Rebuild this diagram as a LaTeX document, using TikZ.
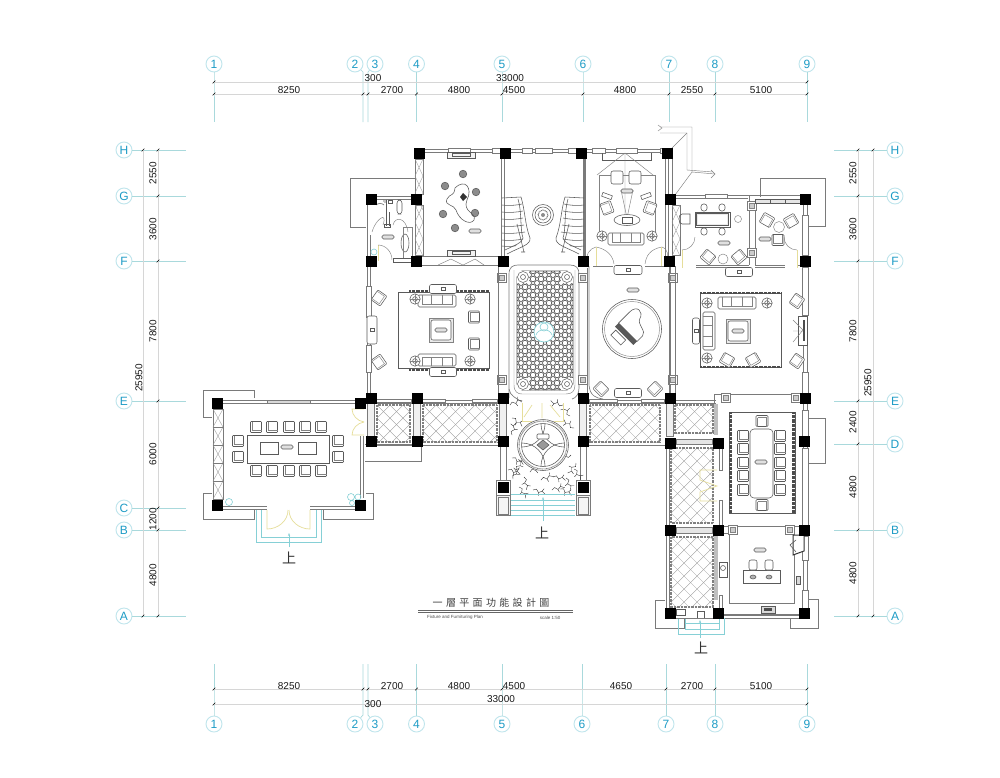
\documentclass[tikz,border=0pt]{standalone}
\usepackage{fontspec}
\setmainfont{Liberation Sans}
\newfontfamily\cjk{Noto Sans CJK TC}
\usetikzlibrary{arrows.meta}
\definecolor{axc}{HTML}{A9D9DC}
\definecolor{txc}{HTML}{1E9CC6}
\definecolor{bub}{HTML}{BFE5EC}
\definecolor{dimc}{HTML}{D6D6D6}
\definecolor{wallc}{HTML}{7A7A7A}
\definecolor{furc}{HTML}{5A5A5A}
\definecolor{yel}{HTML}{E6DE9A}
\definecolor{cy}{HTML}{86D0D6}
\tikzset{
 bubble/.style={circle,draw=bub,line width=.9pt,fill=white,inner sep=0pt,minimum size=16pt,text=txc,font=\fontsize{12}{12}\selectfont},
 axis/.style={draw=axc,line width=.7pt},
 dimline/.style={draw=dimc,line width=.8pt},
 dimtxt/.style={font=\fontsize{10}{10}\selectfont,text=black!90,inner sep=0pt},
 wl/.style={draw=wallc,line width=.65pt},
 wthick/.style={draw=wallc,line width=1.3pt},
 win/.style={draw=wallc,line width=.5pt,fill=white},
 fur/.style={draw=furc,line width=.55pt},
 furl/.style={draw=furc!75,line width=.45pt},
 lat/.style={draw=black!40,line width=.35pt},
 yl/.style={draw=yel,line width=.7pt},
 cyl/.style={draw=cy,line width=.6pt},
 fringe/.style={draw=black!70,line width=2.4pt,dash pattern=on .7pt off .6pt},
 upc/.style={font=\cjk\fontsize{14}{14}\selectfont,inner sep=0pt,text=black!80},
}
\newcommand\colm[2]{\fill[black] (#1-5.5,#2-5.5) rectangle ++(11,11);}
\newcommand\tick[2]{\draw[black,line width=.6pt] (#1-1.3,#2+1.3) -- (#1+1.3,#2-1.3);}
\newcommand\lattice[4]{\begin{scope}\clip (#1,#2) rectangle (#3,#4);
 \foreach \k in {-10,...,20}{\draw[lat] (#1+\k*13,#2) -- ++(120,120); \draw[lat] (#1+\k*13,#2) -- ++(-120,120);}\end{scope}
 \draw[draw=black!50,line width=1.1pt,dash pattern=on .8pt off .6pt] (#1,#2) rectangle (#3,#4);}
\newcommand\achair[3]{\begin{scope}[shift={(#1,#2)},rotate=#3]
 \draw[fur,fill=white,rounded corners=1pt] (-6,-5.5) rectangle (6,5.5);
 \draw[furl] (-4.5,-3.5) -- (4.5,-3.5) -- (4.5,5.5) (-4.5,-3.5) -- (-4.5,5.5);\end{scope}}
\newcommand\schair[2]{\draw[fur,fill=white,rounded corners=.8pt] (#1-5.5,#2-5.5) rectangle (#1+5.5,#2+5.5); \draw[furl] (#1-3.5,#2-5.5) -- (#1-3.5,#2+3.5) -- (#1+5.5,#2+3.5);}
\newcommand\sofa[4]{\begin{scope}[shift={(#1,#2)},rotate=#4]
 \draw[fur,fill=white,rounded corners=1.5pt] (-#3/2,-6) rectangle (#3/2,6);
 \draw[furl] (-#3/2+4,-6) -- (-#3/2+4,3) -- (#3/2-4,3) -- (#3/2-4,-6);
 \draw[furl] (-#3/6+.7,-6) -- (-#3/6+.7,3) (#3/6-.7,-6) -- (#3/6-.7,3);\end{scope}}
\newcommand\rtable[2]{\draw[fur,fill=white] (#1,#2) circle (5.2); \draw[fur] (#1,#2) circle (2.4); \draw[furl] (#1-5.2,#2) -- (#1+5.2,#2) (#1,#2-5.2) -- (#1,#2+5.2);}
\newcommand\tag[2]{\draw[fur,rounded corners=1.5pt,fill=black!12] (#1-6,#2-2) rectangle (#1+6,#2+2);}
\newcommand\console[4]{\draw[fur,fill=white,rounded corners=2pt] (#1-#3/2,#2-#4/2) rectangle (#1+#3/2,#2+#4/2); \draw[fur] (#1-2,#2-1.5) rectangle (#1+2,#2+1.5);}
\newcommand\ctable[3]{\draw[furl,fill=black!8] (#1-#3/2,#2-#3/2) rectangle (#1+#3/2,#2+#3/2); \draw[fur,fill=white,rounded corners=2pt] (#1-#3/2+2,#2-#3/2+2) rectangle (#1+#3/2-2,#2+#3/2-2); \tag{#1}{#2}}
\newcommand\sqbase[2]{\draw[wl,fill=white] (#1-4.5,#2-4.5) rectangle (#1+4.5,#2+4.5); \draw[furl,fill=black!20] (#1-2.5,#2-2.5) rectangle (#1+2.5,#2+2.5);}
\newcommand\topax[3]{\node[bubble] (t#1) at (#2,64) {#1}; \draw[axis] (t#1) -- (#3,72) -- (#3,122);}
\newcommand\botax[3]{\node[bubble] (b#1) at (#2,724) {#1}; \draw[axis] (b#1) -- (#3,715) -- (#3,664);}
\newcommand\leftax[2]{\node[bubble] (l#1) at (124,#2) {#1}; \draw[axis] (l#1) -- (186,#2);}
\newcommand\rightax[2]{\node[bubble] (r#1) at (895,#2) {#1}; \draw[axis] (r#1) -- (834,#2);}
\begin{document}
\begin{tikzpicture}[x=1pt,y=-1pt]
\useasboundingbox (0,0) rectangle (1000,777);
\fill[white] (0,0) rectangle (1000,777);
% ---- axes
\topax{1}{214}{214}\topax{2}{355}{363}\topax{3}{375}{368}\topax{4}{416.5}{416.5}\topax{5}{502}{502}\topax{6}{583}{583}\topax{7}{669}{669}\topax{8}{715}{715}\topax{9}{807}{807}
\botax{1}{214}{214}\botax{2}{355}{363}\botax{3}{375}{368}\botax{4}{416.5}{416.5}\botax{5}{502}{502}\botax{6}{582}{582}\botax{7}{666}{666}\botax{8}{715}{715}\botax{9}{807}{807}
\leftax{H}{150}\leftax{G}{196}\leftax{F}{261}\leftax{E}{401}\leftax{C}{508}\leftax{B}{530}\leftax{A}{616}
\rightax{H}{150}\rightax{G}{196}\rightax{F}{261}\rightax{E}{401}\rightax{D}{444}\rightax{B}{530}\rightax{A}{616}
% ---- dimension lines
\draw[dimline] (214,82) -- (807,82) (214,94) -- (807,94);
\draw[dimline] (214,689) -- (807,689) (214,704) -- (807,704);
\draw[dimline] (143,150) -- (143,616) (158,150) -- (158,616);
\draw[dimline] (873,150) -- (873,616) (858,150) -- (858,616);
\foreach \x in {214,363,368,416.5,502,583,669,715,807}{\tick{\x}{94}}
\tick{214}{82}\tick{807}{82}
\foreach \x in {214,363,368,416.5,502,666,715,807}{\tick{\x}{689}}
\tick{214}{704}\tick{807}{704}
\foreach \y in {150,196,261,401,508,530,616}{\tick{158}{\y}}
\tick{143}{150}\tick{143}{616}
\foreach \y in {150,196,261,401,444,530,616}{\tick{858}{\y}}
\tick{873}{150}\tick{873}{616}
% top texts
\node[dimtxt] (d1) at (289,90) {8250};
\node[dimtxt] (d2) at (392,90) {2700};
\node[dimtxt] (d3) at (459,90) {4800};
\node[dimtxt] (d4) at (514,90) {4500};
\node[dimtxt] (d5) at (625,90) {4800};
\node[dimtxt] (d6) at (692,90) {2550};
\node[dimtxt] (d7) at (761,90) {5100};
\node[dimtxt] (d8) at (373,78) {300};
\node[dimtxt] (d9) at (510,78) {33000};
% bottom texts
\node[dimtxt] (e1) at (289,686) {8250};
\node[dimtxt] (e2) at (392,686) {2700};
\node[dimtxt] (e3) at (459,686) {4800};
\node[dimtxt] (e4) at (514,686) {4500};
\node[dimtxt] (e5) at (621,686) {4650};
\node[dimtxt] (e6) at (692,686) {2700};
\node[dimtxt] (e7) at (761,686) {5100};
\node[dimtxt] (e8) at (373,704) {300};
\node[dimtxt] (e11) at (501,699) {33000};
% left texts
\foreach \n/\y/\t in {a/173/2550,b/229/3600,c/331/7800,d/454/6000,e/519/1200,f/575/4800}{\node[dimtxt,rotate=90] (g\n) at (153,\y) {\t};}
\node[dimtxt,rotate=90] (g0) at (139,378) {25950};
% right texts
\foreach \n/\y/\t in {a/173/2550,b/229/3600,c/331/7800,d/422/2400,e/487/4800,f/573/4800}{\node[dimtxt,rotate=90] (h\n) at (853,\y) {\t};}
\node[dimtxt,rotate=90] (h0) at (868,383) {25950};
% ---- outer bays
\draw[wl] (415,178) -- (350,178) -- (350,227) -- (366,227);
\draw[wl] (760,197) -- (760,178) -- (825,178) -- (825,226) -- (807,226);
\draw[wl] (809,418) -- (825,418) -- (825,463) -- (809,463);
\draw[wl] (254,398) -- (254,390) -- (203,390) -- (203,417) -- (212,417);
\draw[wl] (212,493) -- (203,493) -- (203,519) -- (254,519) -- (254,510);
\draw[wl] (323,510) -- (323,519) -- (373,519) -- (373,493) -- (366,493);
\draw[wl] (365,444) -- (421,444) -- (421,461) -- (365,461);
\draw[wl] (665,600) -- (655,600) -- (655,628) -- (684,628) -- (684,618);
\draw[wl] (790,618) -- (790,628) -- (818,628) -- (818,599) -- (808,599);
% ---- north-east shaft
\draw[furl] (660,127) -- (692,127) -- (692,172) -- (715,174);
\draw[furl] (660,133) -- (687,133) -- (687,170) -- (713,172);
\draw[furl] (687,133) -- (672,148) (692,172) -- (675,195);
\draw[furl] (658,125) -- (662,128) -- (658,131) (711,170) -- (715,174) -- (711,178);
% ---- terrace lattices
\lattice{377}{405}{410}{442}
\lattice{423}{405}{497}{442}
\lattice{590}{405}{660}{442}
\lattice{675}{405}{713}{433}
\lattice{671}{448}{713}{523}
\lattice{671}{537}{713}{607}
% terrace bars
\foreach \x in {371,417,503,583,670}{\draw[wl,fill=black!6] (\x-3.5,403) rectangle (\x+3.5,436);}
\draw[wl,fill=black!10] (676,439) rectangle (712,444);
\draw[wl,fill=black!10] (676,527) rectangle (712,533);
\draw[wl] (666,444) -- (666,613) (669,448) -- (669,608);
\draw[wl] (372,445) -- (500,445) (586,445) -- (665,445);
\draw[wl] (366,400) -- (503,400) (588,400) -- (716,400) (366,403) -- (503,403) (588,403) -- (716,403);
\fill[black!25] (714,404) rectangle (718,435);
\fill[black!25] (714,533) rectangle (718,600);
\draw[wl] (719,448) rectangle (722,470) (719,500) rectangle (722,525) (719,595) rectangle (722,608);
% ---- main walls
\draw[wl] (419,149.5) -- (667,149.5) (419,152) -- (667,152);
\foreach \a/\b in {448/470,492/500,522/532,535/552,568/577,592/605,616/637,660/667}{\draw[win] (\a,148.5) rectangle (\b,153);}
\draw[wl] (501,153) -- (501,258) (504,153) -- (504,258);
\draw[wthick] (585,153) -- (585,258);
\draw[wl] (583,153) -- (583,258);
\draw[wl] (665,153) -- (665,261) (668,153) -- (668,261);
\draw[wl] (672,153) -- (672,199);
% left lattice strips
\foreach \xa/\ya/\yb in {415/159/194,415/205/255,672/205/255}{
 \draw[wl] (\xa,\ya) rectangle (\xa+8,\yb);
 \foreach \q in {0,1,2}{\draw[lat] (\xa,\ya+\q*17) -- (\xa+8,\ya+\q*17+17) (\xa+8,\ya+\q*17) -- (\xa,\ya+\q*17+17);}}
% wall row F
\draw[wl] (422,256) -- (502,256) (422,265) -- (502,265);
\draw[furl] (438,265) -- (451,259) -- (463,265) -- (475,259) -- (484,265);
% west wall main
\draw[wl] (367,266) -- (367,394) (370,266) -- (370,394);
\draw[win] (366,286) rectangle (371,317);
\draw[win] (366,345) rectangle (371,372);
\draw[wl] (367,205) -- (367,256) (370,235) -- (370,256);
\draw[wl] (376,196) -- (415,196) (376,199) -- (415,199);
% south wall row E segments
\foreach \a/\b in {376/411,422/445,472/497,589/617,641/664}{\draw[win] (\a,399.5) rectangle (\b,402.5);}
% east walls
\draw[wl] (803,205) -- (803,393) (807,205) -- (807,393);
\foreach \a/\b in {215/255,267/315,372/393}{\draw[win] (802,\a) rectangle (808,\b);}
\draw[wl] (803,403) -- (803,608) (807,403) -- (807,608);
\foreach \a/\b in {410/436,448/525,536/560,590/608}{\draw[win] (802,\a) rectangle (808,\b);}
% upper right room walls
\draw[wl] (676,195) -- (748,195) (676,198) -- (748,198);
\draw[win] (705,194.5) rectangle (727,198.5);
\draw[wl] (748,195) -- (800,195) (755,199) -- (800,199);
\draw[wl] (749,196) -- (749,265) (755,199) -- (755,265);
\sqbase{752}{206}\sqbase{752}{253}
\draw[wl] (696,265) -- (749,265) (696,267) -- (749,267) (755,265) -- (785,265) (755,267) -- (785,267) (797,265) -- (800,265);
\foreach \a in {755,770,785}{\draw[fur,fill=black!10] (\a,199.5) rectangle (\a+15,203);}
% door arcs
\draw[yl] (682,250) -- (682,268);
\draw[furl] (682,250) arc[start angle=90,end angle=0,radius=13];
\draw[yl] (797,250) -- (797,268);
\draw[furl] (797,250) arc[start angle=90,end angle=180,radius=13];
% north-left room furniture
\draw[fur,fill=black!5] (447,152) rectangle (475,158); \draw[fur] (452,153.5) rectangle (470,156.5);
\draw[fur,fill=black!5] (447,250) rectangle (475,256); \draw[fur] (452,251.5) rectangle (470,254.5);
\foreach \x/\y in {463/174,445/186,476/192,443/214,475/213,455/228}{\draw[fur,fill=black!45] (\x,\y) circle (3.8);}
\draw[fur] (455,188) .. controls (465,178) and (473,188) .. (467,200) .. controls (462,212) and (477,213) .. (474,220) .. controls (470,226) and (459,220) .. (456,210) .. controls (454,204) and (444,206) .. (447,199) .. controls (450,193) and (454,197) .. (455,188) -- cycle;
\fill[black!80] (463,193) -- (467,197) -- (463,201) -- (460,197) -- cycle;
\tag{475}{231}
% stairs
\foreach \s in {0,1}{
\begin{scope}[shift={(\s*1086,0)},xscale={1-2*\s}]
 \draw[fur] (502,198) -- (521,197);
 \draw[fur] (521,197) .. controls (525,210) and (525,225) .. (530,238) .. controls (531,245) and (520,247) .. (507,254);
 \draw[fur] (518,199) .. controls (522,212) and (520,230) .. (523,238) .. controls (522,243) and (515,245) .. (505,250);
 \foreach \y/\e in {205/522,212/523,219/523,226/524,233/525,240/523,246/516}{\draw[fur] (502,\y) .. controls (510,\y+1) and (518,\y) .. (\e,\y-1);}
 \draw[fur] (517,224) -- (524,252) (521,252) -- (525,252);
\end{scope}}
\draw[fur] (543,215) circle (10.5); \draw[fur] (543,215) circle (8);
\draw[black!60,line width=1pt,dash pattern=on .7pt off .7pt] (543,215) circle (5);
\fill[black!45] (543,215) circle (2);
% north right room
\draw[fur] (602,153) -- (602,160) -- (651,160) -- (651,153);
\draw[furl] (625,153) -- (597,175) (625,153) -- (653,175) (625,153) -- (625,222);
\draw[furl] (599,175) -- (655,175) (599,175) -- (599,233) (655,175) -- (655,233);
\draw[fur,fill=white,rounded corners=2pt] (611,171) rectangle (623,184);
\draw[fur,fill=white,rounded corners=2pt] (629,171) rectangle (641,184);
\tag{627}{191}
\draw[fur,rotate around={-20:(607,196)}] (602,194) rectangle (612,198);
\draw[fur,rotate around={20:(646,196)}] (641,194) rectangle (651,198);
\achair{607}{208}{-70}\achair{650}{208}{70}
\draw[furl] (621,190) -- (627,218) -- (633,190);
\draw[fur,fill=white] (627,220) ellipse (13 and 5.5); \draw[fur] (622,217) rectangle (632,223);
\sofa{626}{239}{36}{0}
\rtable{602}{236}\rtable{652}{236}
\draw[furl] (596,247) .. controls (590,248) and (584,256) .. (588,262);
\draw[furl] (596,247) .. controls (607,249) and (613,256) .. (614,264);
\draw[yl] (596,247) -- (596,266);
\draw[furl] (662,247) .. controls (650,249) and (646,256) .. (645,264);
\draw[furl] (662,247) .. controls (668,248) and (668,256) .. (668,262);
\draw[yl] (661,247) -- (661,266);
\draw[wl] (593,266) -- (613,266) (645,266) -- (666,266);
\console{628}{270}{28}{9}
% central hall
\draw[wl] (509,398) -- (509,274) .. controls (509,267) and (513,265) .. (518,265) -- (570,265) .. controls (576,265) and (579,268) .. (579,274) -- (579,388) .. controls (579,394) and (576,398) .. (572,399);
\draw[wl] (509,389) .. controls (510,396) and (516,398) .. (522,402);
\draw[furl] (514,270) -- (514,385) .. controls (514,392) and (518,394) .. (522,394) -- (566,394) .. controls (572,394) and (575,391) .. (575,385) -- (575,270);
\sqbase{502}{278}\sqbase{583}{278}\sqbase{502}{380}\sqbase{583}{380}
\draw[wl] (498,265) -- (498,395) (587,268) -- (587,395);
\begin{scope}
 \clip (522,271) -- (567,271) -- (573,277) -- (573,384) -- (567,390) -- (522,390) -- (517,384) -- (517,277) -- cycle;
 \fill[white] (515,268) rectangle (575,392);
 \foreach \i in {0,...,7}{\foreach \j in {0,...,15}{
   \draw[black!75,line width=.6pt] (517+\i*8,271+\j*8) circle (2.8);
   \draw[black!60,line width=.4pt] (517+\i*8+4,271+\j*8+1) -- ++(3,3) -- ++(-3,3) -- ++(-3,-3) -- cycle;
 }}
\end{scope}
\draw[black!70,line width=.8pt] (522,271) -- (567,271) -- (573,277) -- (573,384) -- (567,390) -- (522,390) -- (517,384) -- (517,277) -- cycle;
\foreach \x/\y in {523/277,567/277,523/384,567/384}{\fill[white] (\x-6,\y-6) rectangle (\x+6,\y+6); \draw[black!65,line width=.5pt] (\x,\y) circle (5.5); \draw[black!65,line width=.5pt] (\x,\y) circle (2.5);}
\fill[white] (544,332) circle (10);
\draw[cy,line width=.7pt] (544,332) circle (10);
\draw[cy,line width=.6pt] (544,327) circle (4);
\draw[cy,line width=.6pt] (536,335) .. controls (538,328) and (550,328) .. (552,335);
% piano room
\draw[wl] (589,266) -- (589,385) .. controls (590,396) and (596,398) .. (603,399);
\draw[wl] (670,266) -- (670,398);
\draw[fur] (632,329) circle (29.5); \draw[furl] (632,329) circle (27.5);
\begin{scope}[shift={(632,328)},rotate=-45]
 \draw[fur] (-13,6) -- (-13,-10) .. controls (-13,-20) and (-3,-20) .. (-1,-12) .. controls (1,-6) and (13,-8) .. (13,-2) -- (13,6) -- cycle;
 \fill[black!65] (-13,6) rectangle (13,11);
 \draw[fur,fill=white] (-10,13) rectangle (4,20);
\end{scope}
\tag{633}{290}
\achair{601}{389}{135}\achair{655}{389}{-135}
\console{628}{393}{27}{9}
% left living
\draw[fur] (398,292) rectangle (489,368);
\draw[fringe] (409,291) -- (489,291) (409,370) -- (489,370);
\console{443}{289}{27}{9}\console{443}{372}{27}{9}
\sofa{437}{301}{38}{0}\sofa{437}{360}{38}{180}
\rtable{415}{299}\rtable{470}{299}\rtable{415}{361}\rtable{470}{361}
\ctable{441}{330}{24}
\achair{474}{317}{90}\achair{474}{344}{90}
\achair{379}{298}{-125}\achair{379}{362}{-55}
\console{372}{330}{10}{28}
% right living
\draw[fur] (700,293) rectangle (781,367);
\draw[fringe] (700,293) -- (781,293) (700,367) -- (781,367);
\console{739}{272}{27}{9}
\sofa{737}{303}{38}{0}\sofa{709}{331}{38}{90}
\rtable{707}{303}\rtable{767}{303}\rtable{707}{358}
\ctable{738}{331}{24}
\console{696}{331}{7}{26}
\achair{727}{360}{150}\achair{753}{360}{-150}
\achair{797}{301}{-125}\achair{797}{361}{-125}
\draw[fur,fill=white] (798,316) rectangle (807,345);
\fill[black!70] (803,320) rectangle (805,341);
\draw[furl] (793,320) -- (803,330) -- (793,342) (793,331) -- (803,331);
\draw[wl] (714,394) -- (714,403) (714,394) -- (804,394);
\sqbase{726}{398}\sqbase{796}{398}
\sqbase{673}{278}\sqbase{673}{380}
\draw[wl] (675,266) -- (675,398) (669,266) -- (669,398);
% upper right rooms
\draw[fur,fill=white] (695,212) rectangle (730,227); \draw[fur,fill=black!8] (696.5,213.5) rectangle (728.5,225.5); \fill[white] (698,215) rectangle (727,224);
\foreach \x in {704,722}{\draw[fur,rounded corners=2.5pt] (\x-3,204) rectangle (\x+3,211); \draw[fur,rounded corners=2.5pt] (\x-3,228) rectangle (\x+3,235);}
\draw[fur] (690,214) -- (682,214) .. controls (678,214) and (678,224) .. (682,224) -- (690,224) -- cycle;
\draw[furl] (738,219) circle (3.5);
\tag{724}{243}
\achair{708}{257}{140}\achair{739}{257}{-140}
\draw[furl] (723,259) circle (5);
\achair{767}{220}{-30}\achair{791}{221}{30}
\achair{778}{240}{180}
\draw[furl] (779,227) circle (5.5);
\tag{765}{239}
% boardroom
\draw[fur] (729,412) rectangle (795,513);
\draw[fringe] (730.5,412) -- (730.5,513) (793.5,412) -- (793.5,513);
\draw[fur,fill=white,rounded corners=4pt] (750,429) rectangle (773,498);
\tag{761}{462}
\foreach \y in {436,449,463,476,490}{\schair{743}{\y}\schair{780}{\y}}
\achair{762}{421}{0}\achair{762}{505}{0}
\draw[yl] (717,470) -- (700,470) -- (700,480) -- (717,486) -- (700,492) -- (700,501) -- (717,501);
% office
\draw[wl] (729,526) rectangle (794,603);
\draw[wl] (720,526) -- (806,526) (720,533) -- (729,533);
\sqbase{733}{530}\sqbase{790}{530}
\draw[black!80,line width=1pt,fill=white] (793,535) -- (804,535) -- (804,551) -- (793,555) -- cycle;
\draw[fur] (796,540) -- (790,545) -- (796,552);
\tag{760}{550}
\draw[fur,fill=white] (743,570) rectangle (780,583);
\foreach \x in {753,769}{\draw[fur,fill=white,rounded corners=2pt] (\x-4,560) rectangle (\x+4,570); \draw[fur,fill=black!30] (\x,577) ellipse (3 and 2);}
\draw[fur,fill=white] (719,562) rectangle (727,577); \draw[fur] (723,568) circle (2.5);
\draw[fur,fill=black!15] (796,576) rectangle (800,584);
\draw[fur,fill=black!15] (761,606) rectangle (775,613); \fill[black!70] (764,608) rectangle (772,611);
\draw[wthick] (723,615) -- (800,615); \draw[wl] (723,618) -- (800,618);
% right wing entry
\draw[cyl] (678,618) -- (678,634) -- (724,634) -- (724,618);
\draw[cyl] (685,618) -- (685,629) -- (719,629) -- (719,618);
\draw[cyl] (685,623) -- (719,623);
\coordinate (ra) at (700,620); \coordinate (rb) at (700,638);
\draw[cy,line width=.6pt,-{Stealth[length=3pt]}] (rb) -- (ra);
\draw[fur] (676,609) rectangle (685,615);
\draw[fur] (697,611) rectangle (704,618);
\draw[wl] (676,618) -- (715,618);
\node[upc] (up3) at (701,648) {上};
% west hall
\draw[wl] (223,400) -- (267,400) (223,403) -- (267,403) (310,400) -- (355,400) (310,403) -- (355,403);
\draw[win,fill=black!15] (267,400) rectangle (310,403);
\draw[wl] (223,506) -- (267,506) (223,509) -- (267,509) (310,506) -- (355,506) (310,509) -- (355,509);
\draw[wl] (213,409) rectangle (223,499);
\foreach \q in {0,1,2,3,4}{\draw[lat] (213,409+\q*18) -- (223,427+\q*18) (223,409+\q*18) -- (213,427+\q*18); \draw[wl] (213,409+\q*18) -- (223,409+\q*18);}
\draw[wl] (360,436) -- (360,498) (363,436) -- (363,498);
\draw[yl] (364,409) -- (352,409) .. controls (352,415) and (357,421) .. (364,422);
\draw[yl] (364,435) -- (352,435) .. controls (352,429) and (357,423) .. (364,422);
\draw[fur,fill=white] (247,435) rectangle (329,463);
\draw[fur] (260,442) rectangle (278,454);
\draw[fur] (298,442) rectangle (316,454);
\tag{287}{447}
\foreach \x in {256,272,289,305,321}{\schair{\x}{427}\schair{\x}{471}}
\schair{238}{441}\schair{238}{457}\schair{338}{441}\schair{338}{457}
\draw[cy,line width=.6pt] (229,502) circle (3.5);
\draw[cy,line width=.6pt] (351,497) circle (3.5) (358,497) circle (3) (352,503) circle (2.5);
\draw[yl] (267,510) -- (267,529) .. controls (278,529) and (288,521) .. (288,510);
\draw[yl] (310,510) -- (310,529) .. controls (299,529) and (289,521) .. (289,510);
\draw[cyl] (256,510) -- (256,542) -- (321,542) -- (321,510);
\draw[cyl] (261,510) -- (261,537) -- (316,537) -- (316,510);
\coordinate (la) at (289,533); \coordinate (lb) at (289,547);
\draw[cy,line width=.6pt,-{Stealth[length=3pt]}] (lb) -- (la);
\node[upc] (up2) at (289,558) {上};
% porch
\draw[wl] (500,444) -- (500,480) (506,444) -- (506,480) (580,444) -- (580,480) (586,444) -- (586,480);
\foreach \x/\y/\r in {510/405/20,512/418/-40,512/435/70,563/405/160,570/416/120,574/428/140,512/458/-30,508/470/-20,516/470/50,524/477/-80,530/472/20,519/487/-60,533/490/-20,541/480/15,553/477/-15,560/489/-30,566/478/-70,574/469/-60,571/455/-170,576/463/-130,552/490/10,513/479/60}{
 \begin{scope}[shift={(\x,\y)},rotate=\r]
  \draw[black!80,line width=.4pt] (0,0) -- (3,-2) -- (6,.5) -- (9,-2) -- (13,0);
  \draw[black!80,line width=.4pt] (6,.5) -- (7,3.5) (9,-2) -- (10,-5);
 \end{scope}}
\draw[yl] (522,403) -- (522,421) -- (563,421) -- (563,403);
\draw[yl] (524,417) -- (532,405) (560,417) -- (550,405) (542,418) -- (542,403);
\fill[white] (543,445) circle (26);
\draw[fur] (543,445) circle (25.5); \draw[black!50,line width=1pt,dash pattern=on .7pt off .6pt] (543,445) circle (24); \draw[fur] (543,445) circle (21.5);
\begin{scope}
\clip (543,445) circle (21.5);
\foreach \a/\b in {522/424,564/424,522/466,564/466}{\draw[fur] (\a,\b) circle (23);}
\end{scope}
\draw[fur,fill=white,rounded corners=1pt] (537,434) rectangle (549,439);
\draw[fur,fill=black!40] (543,440) -- (549,445) -- (543,450) -- (537,445) -- cycle;
% porch columns, steps
\draw[wl] (496,480) rectangle (510,495);
\draw[wl] (576,480) rectangle (590,495);
\draw[wl,fill=black!4] (496,495) rectangle (510,515);
\draw[wl,fill=black!4] (576,495) rectangle (590,515);
\draw[wl] (498,497) rectangle (508,514) (578,497) rectangle (588,514);
\foreach \y in {494,500,505,510,515}{\draw[cyl] (511,\y) -- (575,\y);}
\coordinate (pa) at (543,497); \coordinate (pb) at (543,521);
\draw[cy,line width=.6pt,-{Stealth[length=3pt]}] (pb) -- (pa);
\node[upc] (up1) at (542,533) {上};
% toilet
\draw[fur,rounded corners=3pt] (397,200) rectangle (402,214);
\draw[fur] (388,200) rectangle (392,203);
\draw[furl] (385,201) circle (1.5);
\draw[fur] (386,200) -- (386,226) (389,212) -- (389,226);
\draw[fur] (384,224) rectangle (390,227);
\draw[furl] (372,232) .. controls (375,220) and (388,210) .. (383,225);
\draw[furl] (393,225) .. controls (395,216) and (406,217) .. (408,232);
\draw[fur] (376,205) .. controls (378,203) and (382,203) .. (384,205);
\tag{388}{237}
\draw[fur] (405,243) ellipse (4 and 9); \draw[furl] (403,227) rectangle (412,258);
\draw[yl] (378,245) -- (378,261);
\draw[furl] (378,245) .. controls (386,245) and (392,252) .. (392,260);
\draw[fur] (393,258) rectangle (412,262);
\draw[cy,line width=.6pt] (374,252) circle (3);
% ---- columns
\foreach \x/\y in {419/153,505/153,581/153,667/153,
 371/199,416/199,670/199,805/199,
 371/261,416/261,503/261,583/261,669/261,805/261,
 371/398,417/398,503/398,583/398,670/398,805/398,
 371/441,417/441,503/441,583/441,670/443,718/443,804/441,
 503/487,583/487,
 670/530,718/530,804/530,670/613,718/613,804/613,
 217/403,360/403,217/505,360/505}{\colm{\x}{\y}}
% ---- title
\node[inner sep=0pt,font=\cjk\fontsize{10}{10}\selectfont,text=black!75] (title) at (491,603) {一\,\,層\,\,平\,\,面\,\,功\,\,能\,\,設\,\,計\,\,圖};
\coordinate (tla) at (418,610); \coordinate (tlb) at (573,610);
\coordinate (tlc) at (418,612.5); \coordinate (tld) at (573,612.5);
\draw[black!60,line width=.6pt] (tla) -- (tlb) (tlc) -- (tld);
\node[inner sep=0pt,font=\fontsize{4.5}{5}\selectfont,text=black!70] (sub) at (455,617.5) {Fixture and Furnituring Plan};
\node[inner sep=0pt,font=\fontsize{4.5}{5}\selectfont,text=black!70] (scl) at (550,617.5) {scale 1:50};
\end{tikzpicture}
\end{document}
